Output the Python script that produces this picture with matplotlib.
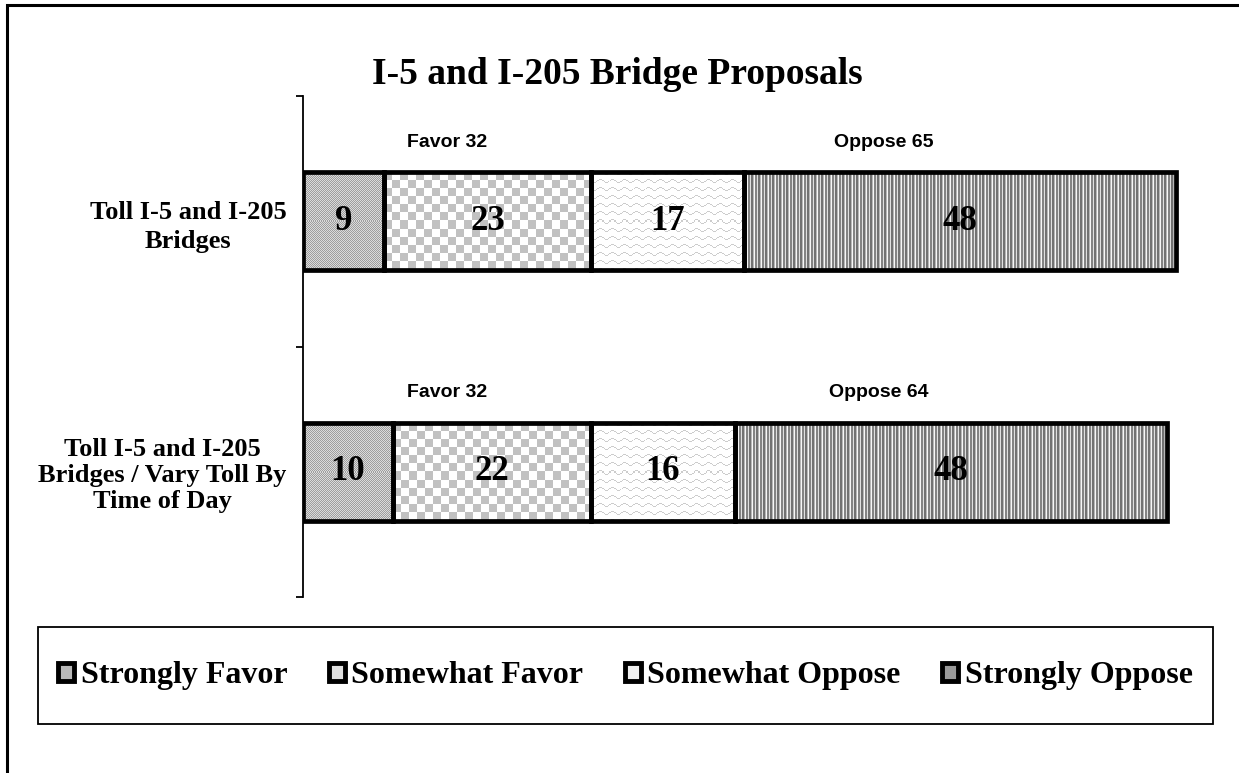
import numpy as np
import matplotlib
matplotlib.use("Agg")
import matplotlib.pyplot as plt
from matplotlib.patches import Patch, Rectangle

# ---------------- data ----------------
title = "I-5 and I-205 Bridge Proposals"
categories = ["Toll I-5 and I-205\nBridges",
              "Toll I-5 and I-205\nBridges / Vary Toll By\nTime of Day"]
series_names = ["Strongly Favor", "Somewhat Favor", "Somewhat Oppose", "Strongly Oppose"]
strongly_favor = [9, 10]
somewhat_favor = [23, 22]
somewhat_oppose = [17, 16]
strongly_oppose = [48, 48]
favor_totals = [32, 32]
oppose_totals = [65, 64]

series = [strongly_favor, somewhat_favor, somewhat_oppose, strongly_oppose]
avg_colors = ["#b8b8b8", "#e0e0e0", "#f0f0f0", "#9a9a9a"]

serif = ["Liberation Serif", "DejaVu Serif"]
sans = ["Liberation Sans", "DejaVu Sans"]

W, H = 1239, 773
fig = plt.figure(figsize=(W / 100, H / 100), dpi=100)
ax = fig.add_axes([303 / W, 1 - 597 / H, 900 / W, 501 / H])
ax.set_xlim(0, 100)
ax.set_ylim(1.5, -0.5)


def texture(kind, h, w):
    yy, xx = np.mgrid[0:h, 0:w]
    if kind == 0:  # fine dither
        img = np.where((xx + yy) % 2 == 0, 0.62, 0.86)
    elif kind == 1:  # checkerboard
        img = np.where(((xx // 8) + (yy // 8)) % 2 == 0, 0.76, 1.0)
    elif kind == 2:  # waves
        wave = 1.6 * np.sin(2 * np.pi * xx / 12.0)
        d = np.mod(yy - wave, 8.0)
        img = np.where(d < 1.0, 0.80, 1.0)
    else:  # vertical stripes
        pat = np.array([0.45, 0.45, 0.72, 0.97, 0.52, 0.52, 0.88])
        img = pat[xx % len(pat)]
    return np.dstack([img, img, img])


fig.canvas.draw()
y_pos = np.arange(len(categories))
left = np.zeros(len(categories))
bar_h = 0.39
for k, vals in enumerate(series):
    bars = ax.barh(y_pos, vals, left=left, height=bar_h, facecolor="none",
                   edgecolor="black", linewidth=3.4, zorder=3)
    for b, v, l, yc in zip(bars, vals, left, y_pos):
        x0, y0 = b.get_x(), b.get_y()
        x1, y1 = x0 + b.get_width(), y0 + b.get_height()
        p0 = ax.transData.transform((x0, y0))
        p1 = ax.transData.transform((x1, y1))
        wpx = max(int(abs(p1[0] - p0[0])), 1)
        hpx = max(int(abs(p1[1] - p0[1])), 1)
        im = ax.imshow(texture(k, hpx, wpx), extent=(x0, x1, y1, y0),
                       interpolation="nearest", aspect="auto", zorder=2)
        im.set_clip_path(b)
        ax.text(l + v / 2, yc, str(v), ha="center", va="center",
                fontsize=25, fontweight="bold", family=serif, zorder=4)
    left = left + np.array(vals)
ax.set_xlim(0, 100)
ax.set_ylim(1.5, -0.5)

for i, (f, o) in enumerate(zip(favor_totals, oppose_totals)):
    ax.text(f / 2, i - bar_h / 2 - 0.12, f"Favor {f}", ha="center", va="center",
            fontsize=14, fontweight="bold", family=sans)
    ax.text(f + o / 2, i - bar_h / 2 - 0.12, f"Oppose {o}", ha="center", va="center",
            fontsize=14, fontweight="bold", family=sans)

# axes styling
for s in ["top", "right", "bottom"]:
    ax.spines[s].set_visible(False)
ax.spines["left"].set_linewidth(1.3)
ax.xaxis.set_visible(False)
ax.set_yticks([-0.5, 0.5, 1.5])
ax.set_yticklabels([])
ax.tick_params(axis="y", which="major", length=5, width=1.3, direction="out")
ax.set_yticks(y_pos, minor=True)
labels = ax.set_yticklabels(categories, minor=True, fontsize=19, fontweight="bold",
                            family=serif, ha="right", multialignment="center",
                            linespacing=1.15)
labels[0].set_linespacing(1.35)
ax.tick_params(axis="y", which="minor", length=0, pad=12)
ax.set_facecolor("none")

fig.text(617 / W, 1 - 75 / H, title, ha="center", va="center",
         fontsize=27, fontweight="bold", family=serif)

# legend
box = (38 / W, 1 - 724 / H, (1213 - 38) / W, 97 / H)
handles = [Patch(facecolor=c, edgecolor="black", linewidth=3.5) for c in avg_colors]
leg = fig.legend(handles, series_names, loc="center", ncol=4,
                 bbox_to_anchor=box, bbox_transform=fig.transFigure,
                 frameon=False, handlelength=0.5, handleheight=0.5,
                 handletextpad=0.2, columnspacing=1.3, borderaxespad=0,
                 prop={"family": serif, "weight": "bold", "size": 23})
fig.patches.append(Rectangle(box[:2], box[2], box[3],
                             transform=fig.transFigure, fill=False,
                             edgecolor="black", linewidth=1.3))

# outer border
fig.patches.append(Rectangle((7 / W, -0.1), 1.2, 1 - 5 / H + 0.1,
                             transform=fig.transFigure, fill=False,
                             edgecolor="black", linewidth=2.2))

fig.savefig("out.png", dpi=100)
